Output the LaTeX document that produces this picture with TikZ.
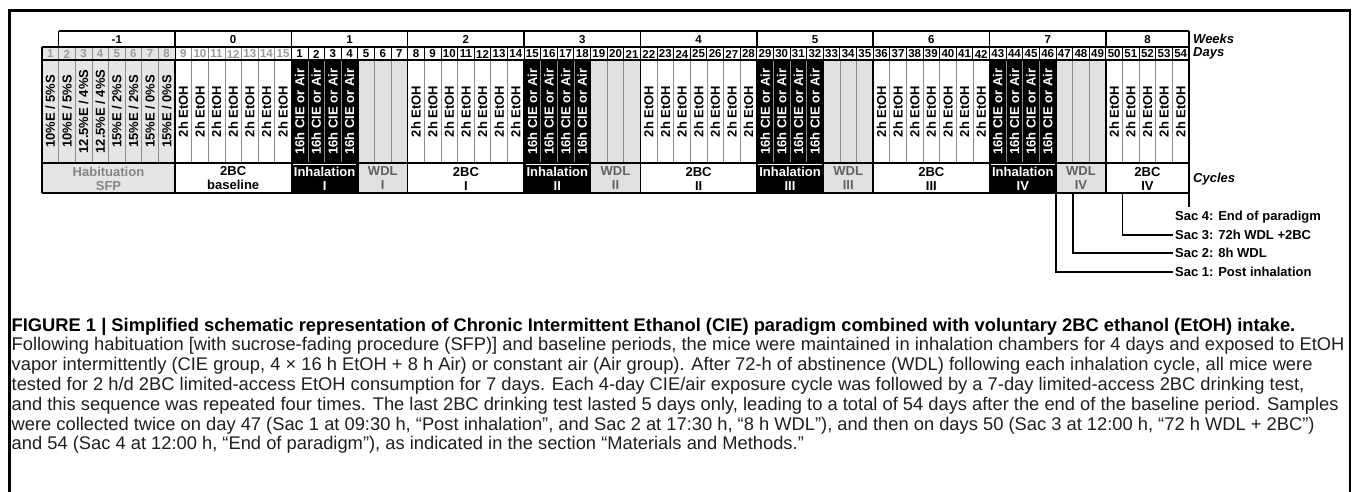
\documentclass[tikz,border=0pt]{standalone}
\usepackage{fontspec}
\setmainfont{Liberation Sans}
\definecolor{habbg}{gray}{0.90}
\definecolor{wdlbg}{gray}{0.88}
\definecolor{habtxt}{gray}{0.52}
\definecolor{daygray}{gray}{0.60}
\definecolor{sepgray}{gray}{0.55}
\definecolor{wdltxt}{gray}{0.38}
\definecolor{captxt}{gray}{0.12}
\newlength\capw
\newcommand\capfont{\fontsize{\capsz pt}{\capsz pt}\selectfont}
\tikzset{
  daynum/.style={font=\bfseries\fontsize{11.5}{11.5}\selectfont, inner sep=0pt},
  weeknum/.style={font=\bfseries\fontsize{11.5}{11.5}\selectfont, inner sep=0pt},
  celltxt/.style={font=\bfseries\fontsize{13}{13}\selectfont, rotate=90, inner sep=0pt},
  cyctxt/.style={font=\bfseries\fontsize{13}{14}\selectfont, align=center, inner sep=0pt},
  sidelab/.style={font=\bfseries\itshape\fontsize{13}{13}\selectfont, anchor=west, inner sep=0pt},
  saclab/.style={font=\bfseries\fontsize{13}{13}\selectfont, anchor=west, inner sep=2pt},
  sacline/.style={line width=1.8pt},
  capline/.style={anchor=base west, inner sep=0pt, text=captxt},
  blk/.style={line width=1.5pt, black},
  sepl/.style={line width=0.7pt, sepgray},
}
\begin{document}
\settowidth\capw{\fontsize{10pt}{12pt}\selectfont Following habituation [with sucrose-fading procedure (SFP)] and baseline periods, the mice were maintained in inhalation chambers for 4 days and exposed to EtOH}%
\pgfmathsetmacro\capsz{10*1333/\capw}%
\begin{tikzpicture}[x=1pt,y=1pt]
\pgfmathsetmacro\cw{1147/69}
\useasboundingbox (0,0) rectangle (1358,-492);
\fill[white] (0,0) rectangle (1358,-492);
% frame
\draw[line width=2.8pt] (9.5,-520) -- (9.5,-10.5) -- (1350,-10.5) -- (1350,-520);
% fills
\fill[habbg] (42,-47) rectangle ({42+8*\cw},-193);
\foreach \a/\b in {16/19,30/33,44/47,58/61}
  \fill[black] ({42+(\a-1)*\cw},-60) rectangle ({42+\b*\cw},-193);
\foreach \a/\b in {20/22,34/36,48/50,62/64}
  \fill[wdlbg] ({42+(\a-1)*\cw},-60) rectangle ({42+\b*\cw},-193);
% thin separators
\foreach \k in {2,...,69}
  \draw[sepl] ({42+(\k-1)*\cw},-60) -- ({42+(\k-1)*\cw},-163);
\foreach \k in {2,...,15}
  \draw[sepl] ({42+(\k-1)*\cw},-47) -- ({42+(\k-1)*\cw},-60);
\foreach \k in {16,...,69}
  \draw[line width=0.9pt] ({42+(\k-1)*\cw},-47) -- ({42+(\k-1)*\cw},-60);
% block boundaries
\foreach \k in {9,16,20,23,30,34,37,44,48,51,58,62,65}
  \draw[blk] ({42+(\k-1)*\cw},-60) -- ({42+(\k-1)*\cw},-193);
\foreach \k in {2,9,16,23,30,37,44,51,58,65}
  \draw[blk] ({42+(\k-1)*\cw},-31) -- ({42+(\k-1)*\cw},-47);
\draw[line width=0.9pt] ({42+8*\cw},-47) -- ({42+8*\cw},-60);
\draw[line width=0.9pt] ({42+15*\cw},-47) -- ({42+15*\cw},-60);
% horizontal rules and outline
\draw[blk] ({42+\cw},-31) -- (1189,-31);
\draw[blk] (42,-47) -- (1189,-47);
\draw[blk] (42,-60) -- (1189,-60);
\draw[blk] (42,-163) -- (1189,-163);
\draw[blk] (42,-193) -- (1189,-193);
\draw[blk] (42,-47) -- (42,-193);
\draw[blk] (1189,-31) -- (1189,-193);
\foreach \a/\b in {16/19,30/33,44/47,58/61}
  \draw[white, line width=1pt] ({42+(\a-1)*\cw+1.5},-164.2) -- ({42+\b*\cw-1.5},-164.2);
% weeks
\foreach \a/\b/\t in {2/8/-1,9/15/0,16/22/1,23/29/2,30/36/3,37/43/4,44/50/5,51/57/6,58/64/7,65/69/8}
  \node[weeknum] (wk\a) at ({42+(\a-1+\b)/2*\cw},-39.5) {\t};
% days
\foreach \k in {1,...,15}
  \node[daynum, text=daygray] (d\k) at ({42+(\k-0.5)*\cw},-54) {\k};
\foreach \k [evaluate=\k as \d using int(\k-15)] in {16,...,69}
  \node[daynum] (d\k) at ({42+(\k-0.5)*\cw},-54) {\d};
% body texts
\node[celltxt] (b1) at ({42+0.5*\cw},-111.5) {10\%E / 5\%S};
\node[celltxt] (b2) at ({42+1.5*\cw},-111.5) {10\%E / 5\%S};
\node[celltxt] (b3) at ({42+2.5*\cw},-111.5) {12.5\%E / 4\%S};
\node[celltxt] (b4) at ({42+3.5*\cw},-111.5) {12.5\%E / 4\%S};
\node[celltxt] (b5) at ({42+4.5*\cw},-111.5) {15\%E / 2\%S};
\node[celltxt] (b6) at ({42+5.5*\cw},-111.5) {15\%E / 2\%S};
\node[celltxt] (b7) at ({42+6.5*\cw},-111.5) {15\%E / 0\%S};
\node[celltxt] (b8) at ({42+7.5*\cw},-111.5) {15\%E / 0\%S};
\foreach \a/\b in {9/15,23/29,37/43,51/57,65/69}
  \foreach \k in {\a,...,\b}
    \node[celltxt] (b\k) at ({42+(\k-0.5)*\cw},-111.5) {2h EtOH};
\foreach \a/\b in {16/19,30/33,44/47,58/61}
  \foreach \k in {\a,...,\b}
    \node[celltxt, text=white] (b\k) at ({42+(\k-0.5)*\cw},-111.5) {16h CIE or Air};
% cycles
\node[cyctxt, text=habtxt] (cHab) at ({42+4*\cw},-178.5) {Habituation\\SFP};
\node[cyctxt] (cBase) at ({42+11.5*\cw},-178.5) {2BC\\baseline};
\foreach \a/\b/\r in {16/19/I,30/33/II,44/47/III,58/61/IV}
  \node[cyctxt, text=white] (cInh\r) at ({42+(\a-1+\b)/2*\cw},-178.5) {Inhalation\\\r};
\foreach \a/\b/\r in {20/22/I,34/36/II,48/50/III,62/64/IV}
  \node[cyctxt, text=wdltxt] (cWdl\r) at ({42+(\a-1+\b)/2*\cw},-178.5) {WDL\\\r};
\foreach \a/\b/\r in {23/29/I,37/43/II,51/57/III,65/69/IV}
  \node[cyctxt] (cBC\r) at ({42+(\a-1+\b)/2*\cw},-178.5) {2BC\\\r};
% side labels
\node[sidelab] (lweeks) at (1193,-38.5) {Weeks};
\node[sidelab] (ldays) at (1193,-53) {Days};
\node[sidelab] (lcycles) at (1193,-179) {Cycles};
% sacrifice points
\node[saclab] (sac4) at (1173,-217) {Sac 4: End of paradigm};
\node[saclab] (sac3) at (1173,-235) {Sac 3: 72h WDL +2BC};
\node[saclab] (sac2) at (1173,-253) {Sac 2: 8h WDL};
\node[saclab] (sac1) at (1173,-272) {Sac 1: Post inhalation};
\coordinate (t1) at ({42+61*\cw},-193);
\coordinate (t2) at ({42+62*\cw},-193);
\coordinate (t3) at ({42+65*\cw},-193);
\coordinate (t4) at (1189,-193);
\coordinate (e4) at (1189,-207);
\draw[sacline] (t1) |- (sac1.west);
\draw[sacline] (t2) |- (sac2.west);
\draw[sacline] (t3) |- (sac3.west);
\draw[sacline] (t4) -- (e4);
% caption
\node[capline, font=\bfseries\capfont, text=black] (cap0) at (11.5,-331) {FIGURE 1 | Simplified schematic representation of Chronic Intermittent Ethanol (CIE) paradigm combined with voluntary 2BC ethanol (EtOH) intake.};
\node[capline, font=\capfont] (cap1) at (11.5,-350.8) {Following habituation [with sucrose-fading procedure (SFP)] and baseline periods, the mice were maintained in inhalation chambers for 4 days and exposed to EtOH};
\node[capline, font=\capfont] (cap2) at (11.5,-370.6) {vapor intermittently (CIE group, 4 × 16 h EtOH + 8 h Air) or constant air (Air group). After 72-h of abstinence (WDL) following each inhalation cycle, all mice were};
\node[capline, font=\capfont] (cap3) at (11.5,-390.4) {tested for 2 h/d 2BC limited-access EtOH consumption for 7 days. Each 4-day CIE/air exposure cycle was followed by a 7-day limited-access 2BC drinking test,};
\node[capline, font=\capfont] (cap4) at (11.5,-410.2) {and this sequence was repeated four times. The last 2BC drinking test lasted 5 days only, leading to a total of 54 days after the end of the baseline period. Samples};
\node[capline, font=\capfont] (cap5) at (11.5,-430) {were collected twice on day 47 (Sac 1 at 09:30 h, “Post inhalation”, and Sac 2 at 17:30 h, “8 h WDL”), and then on days 50 (Sac 3 at 12:00 h, “72 h WDL + 2BC”)};
\node[capline, font=\capfont] (cap6) at (11.5,-449.8) {and 54 (Sac 4 at 12:00 h, “End of paradigm”), as indicated in the section “Materials and Methods.”};
\end{tikzpicture}
\end{document}
